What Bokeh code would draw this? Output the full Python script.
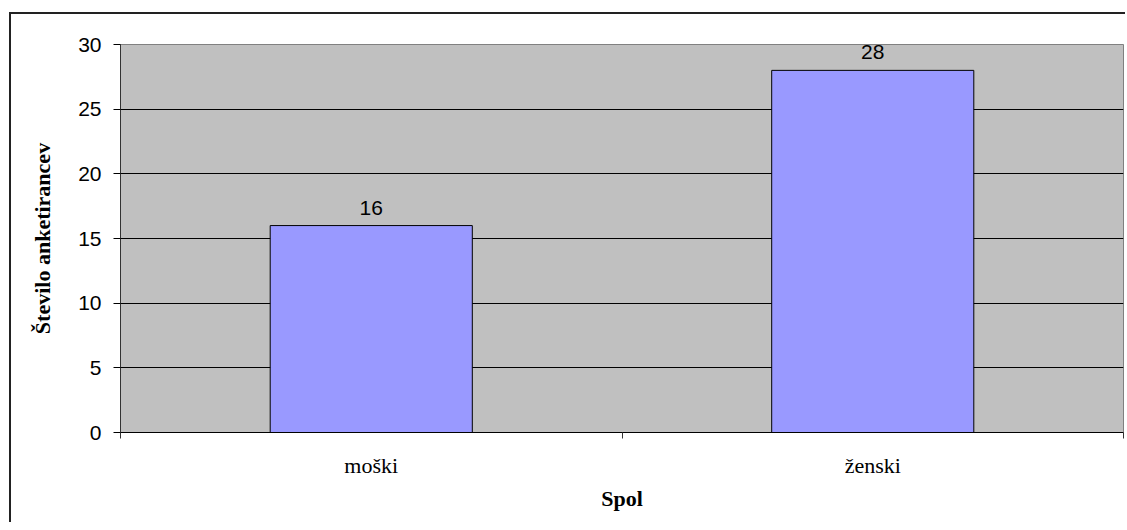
from bokeh.plotting import figure
from bokeh.models import Range1d, FixedTicker, LabelSet, ColumnDataSource
from bokeh.core.properties import value
from bokeh.embed import file_html
from bokeh.resources import INLINE
import numpy as np

categories = ["moški", "ženski"]
counts = [16, 28]
y_ticks = [0, 5, 10, 15, 20, 25, 30]

x_centers = (np.arange(len(categories)) + 0.5).tolist()
x_bounds = np.arange(len(categories) + 1).tolist()

src = ColumnDataSource(dict(x=x_centers, y=counts, lbl=[str(c) for c in counts]))

p = figure(frame_width=1003, frame_height=388,
           x_range=Range1d(0, len(categories)), y_range=Range1d(0, 30),
           output_backend="svg", toolbar_location=None,
           min_border_left=109, min_border_top=30, min_border_right=2, min_border_bottom=90)
p.styles = {"margin-left": "9px", "margin-top": "12px",
            "border-left": "2px solid #222222", "border-top": "2px solid #222222"}

p.background_fill_color = "#C0C0C0"
p.border_fill_color = "white"
p.outline_line_color = "#808080"
p.outline_line_width = 1

p.xgrid.visible = False
p.ygrid.ticker = FixedTicker(ticks=y_ticks[1:-1])
p.ygrid.grid_line_color = "black"
p.ygrid.grid_line_width = 1

p.vbar(x="x", top="y", width=0.403, bottom=0, source=src,
       fill_color="#9999FF", line_color="black", line_width=1)

labels = LabelSet(x="x", y="y", text="lbl", source=src, y_offset=11,
                  text_align="center", text_baseline="alphabetic",
                  text_font=value("Liberation Sans"), text_font_size=value("21px"),
                  text_color="black")
p.add_layout(labels)

# y axis
p.yaxis.ticker = FixedTicker(ticks=y_ticks)
p.yaxis.axis_line_color = "#333333"
p.yaxis.major_tick_line_color = "black"
p.yaxis.major_tick_out = 7
p.yaxis.major_tick_in = 0
p.yaxis.minor_tick_line_color = None
p.yaxis.major_label_standoff = 12
p.yaxis.major_label_text_font = "Liberation Sans"
p.yaxis.major_label_text_font_size = "21px"
p.yaxis.major_label_text_color = "black"
p.yaxis.axis_label = "Število anketirancev"
p.yaxis.axis_label_text_font = "Liberation Serif"
p.yaxis.axis_label_text_font_style = "bold"
p.yaxis.axis_label_text_font_size = "22px"
p.yaxis.axis_label_text_color = "black"
p.yaxis.axis_label_standoff = 20

# x axis
p.xaxis.ticker = FixedTicker(ticks=x_centers, minor_ticks=x_bounds)
p.xaxis.major_label_overrides = {x: c for x, c in zip(x_centers, categories)}
p.xaxis.axis_line_color = "black"
p.xaxis.major_tick_out = 0
p.xaxis.major_tick_in = 0
p.xaxis.major_tick_line_color = None
p.xaxis.minor_tick_line_color = "#333333"
p.xaxis.minor_tick_out = 6
p.xaxis.minor_tick_in = 0
p.xaxis.major_label_standoff = 14
p.xaxis.major_label_text_font = "Liberation Serif"
p.xaxis.major_label_text_font_size = "22px"
p.xaxis.major_label_text_color = "black"
p.xaxis.axis_label = "Spol"
p.xaxis.axis_label_text_font = "Liberation Serif"
p.xaxis.axis_label_text_font_style = "bold"
p.xaxis.axis_label_text_font_size = "22px"
p.xaxis.axis_label_text_color = "black"
p.xaxis.axis_label_standoff = 5

open("out.html", "w").write(file_html(p, INLINE))
